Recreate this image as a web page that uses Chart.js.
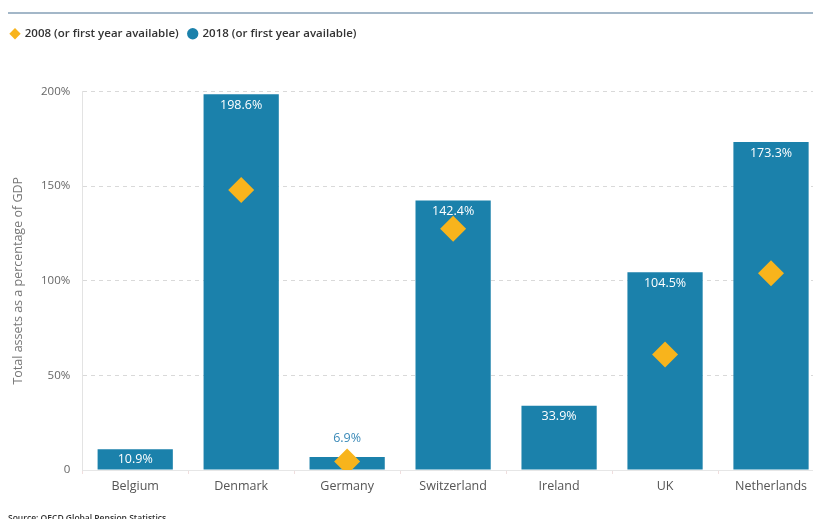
<!DOCTYPE html>
<html>
  <head>
    <script src="https://cdn.jsdelivr.net/npm/chart.js"></script>
    <style>
      body { margin: 0; overflow: hidden; background: #fff; }
      #wrap { position: absolute; left: 0; top: 0; width: 837px; height: 519px; }
      #myChart { width: 837px; height: 519px; display: block; }
    </style>
    <script>
      // Countries along the x axis
      const countries = ['Belgium', 'Denmark', 'Germany', 'Switzerland', 'Ireland', 'UK', 'Netherlands'];
      // Assets as % of GDP, 2018 (bars) and 2008 (diamonds); null = no value shown
      const values2018 = [10.9, 198.6, 6.9, 142.4, 33.9, 104.5, 173.3];
      const values2008 = [null, 148, 4.5, 127.5, null, 61, 104];
      const yTicks = [0, 50, 100, 150, 200];
      const sourceNote = 'Source: OECD Global Pension Statistics';

      const blue = '#1b81ab';
      const orange = '#f8b41c';
      const font = '"Open Sans", sans-serif';

      window.onload = function() {
        // Extra gap below the legend
        const legendGap = {
          id: 'legendGap',
          beforeInit(chart) {
            const fit = chart.legend.fit;
            chart.legend.fit = function() {
              fit.bind(chart.legend)();
              this.height += 42;
            };
          }
        };

        // Value labels on bars, top rule and source line
        const extras = {
          id: 'extras',
          afterDatasetsDraw(chart) {
            const ctx = chart.ctx;
            const meta = chart.getDatasetMeta(1);
            ctx.save();
            ctx.font = '12.5px ' + font;
            ctx.textAlign = 'center';
            ctx.textBaseline = 'middle';
            meta.data.forEach(function(bar, i) {
              const v = values2018[i];
              const txt = v.toFixed(1) + '%';
              if (v < 8) {
                ctx.fillStyle = '#3b8ab8';
                ctx.fillText(txt, bar.x, bar.y - 19);
              } else {
                ctx.fillStyle = '#ffffff';
                ctx.fillText(txt, bar.x, Math.min(bar.y + 11, (bar.y + bar.base) / 2));
              }
            });
            ctx.restore();
          },
          afterDraw(chart) {
            const ctx = chart.ctx;
            ctx.save();
            ctx.strokeStyle = '#a3b7c8';
            ctx.lineWidth = 2;
            ctx.beginPath();
            ctx.moveTo(8, 13);
            ctx.lineTo(chart.width, 13);
            ctx.stroke();
            ctx.fillStyle = '#333';
            ctx.font = '600 8.5px ' + font;
            ctx.textAlign = 'left';
            ctx.textBaseline = 'alphabetic';
            ctx.fillText(sourceNote, 8, 521);
            ctx.restore();
          }
        };

        new Chart(document.getElementById('myChart'), {
          data: {
            labels: countries,
            datasets: [{
              type: 'line',
              label: '2008 (or first year available)',
              data: values2008,
              showLine: false,
              pointStyle: 'rectRot',
              pointRadius: 13,
              pointHoverRadius: 13,
              backgroundColor: orange,
              borderColor: orange,
              borderWidth: 0
            }, {
              type: 'bar',
              label: '2018 (or first year available)',
              data: values2018,
              backgroundColor: blue,
              pointStyle: 'circle',
              barPercentage: 0.71,
              categoryPercentage: 1
            }]
          },
          options: {
            responsive: false,
            animation: false,
            layout: { padding: { top: 18, left: 1, right: 3, bottom: 20 } },
            plugins: {
              tooltip: { enabled: false },
              legend: {
                position: 'top',
                align: 'start',
                labels: {
                  usePointStyle: true,
                  boxWidth: 8,
                  boxHeight: 8,
                  padding: 10,
                  color: '#333',
                  font: { size: 11.5, weight: '600', family: font }
                }
              }
            },
            scales: {
              x: {
                offset: true,
                grid: { offset: true, drawOnChartArea: false, tickLength: 4, color: '#f0dede' },
                border: { color: '#e6e6e6' },
                ticks: { color: '#555', padding: 5, font: { size: 12.5, family: font } }
              },
              y: {
                min: 0,
                max: 200,
                afterBuildTicks: function(axis) { axis.ticks = yTicks.map(v => ({ value: v })); },
                grid: {
                  color: function(c) { return c.tick.value === 0 ? 'rgba(0,0,0,0)' : '#d9d9d9'; },
                  drawTicks: false
                },
                border: { color: '#e3e3e3', dash: [4, 4] },
                ticks: {
                  color: '#666',
                  padding: 12,
                  font: { size: 11.5, family: font },
                  callback: function(v) { return v === 0 ? '0' : v + '%'; }
                },
                title: {
                  display: true,
                  text: 'Total assets as a percentage of GDP',
                  color: '#777',
                  padding: { top: 10, bottom: 3 },
                  font: { size: 12.5, family: font }
                }
              }
            }
          },
          plugins: [legendGap, extras]
        });
      }
    </script>
  </head>
  <body>
    <div id="wrap">
      <canvas id="myChart" width="837" height="519"></canvas>
    </div>
  </body>
</html>
